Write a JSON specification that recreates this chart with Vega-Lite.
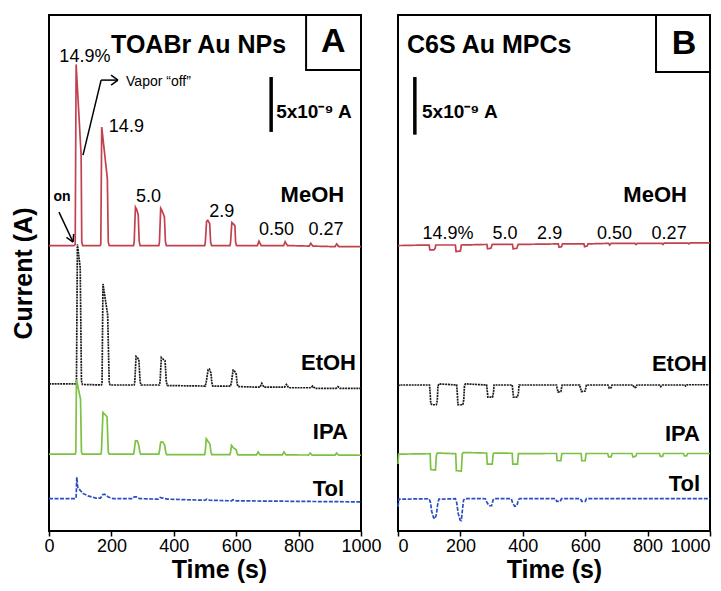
{
"$schema": "https://vega.github.io/schema/vega-lite/v6.json",
"background": "white",
"padding": {"left": 10, "top": 13, "right": 0, "bottom": 0},
"spacing": 37,
"bounds": "flush",
"config": {
  "font": "Liberation Sans",
  "view": {"stroke": "black", "strokeWidth": 2},
  "axisX": {"titleFontSize": 25, "titleFontWeight": "bold", "titleColor": "black", "titlePadding": 2,
    "labelFontSize": 18, "labelColor": "black", "labelFlush": false, "labelPadding": 1, "labelFontWeight": "normal",
    "tickColor": "black", "tickSize": 5, "tickWidth": 1.5, "domain": false, "grid": false},
  "text": {"color": "black"}
},
"datasets": {
  "tracesA": [
    {"series":"MeOH","time":0,"current":26.0},{"series":"MeOH","time":80,"current":26.0},{"series":"MeOH","time":84,"current":26.1},{"series":"MeOH","time":87,"current":42.5},{"series":"MeOH","time":103,"current":34.2},{"series":"MeOH","time":105,"current":26.3},{"series":"MeOH","time":108,"current":26.0},
    {"series":"MeOH","time":164,"current":26.0},{"series":"MeOH","time":166,"current":26.1},{"series":"MeOH","time":169,"current":36.8},{"series":"MeOH","time":187,"current":32.1},{"series":"MeOH","time":190,"current":26.3},{"series":"MeOH","time":193,"current":26.0},
    {"series":"MeOH","time":271,"current":26.0},{"series":"MeOH","time":273,"current":26.3},{"series":"MeOH","time":277,"current":29.5},{"series":"MeOH","time":281,"current":29.3},{"series":"MeOH","time":286,"current":28.8},{"series":"MeOH","time":289,"current":26.4},{"series":"MeOH","time":292,"current":26.0},
    {"series":"MeOH","time":352,"current":26.0},{"series":"MeOH","time":354,"current":26.3},{"series":"MeOH","time":358,"current":29.4},{"series":"MeOH","time":362,"current":29.2},{"series":"MeOH","time":370,"current":28.6},{"series":"MeOH","time":373,"current":26.4},{"series":"MeOH","time":376,"current":26.0},
    {"series":"MeOH","time":499,"current":26.0},{"series":"MeOH","time":501,"current":26.3},{"series":"MeOH","time":505,"current":28.2},{"series":"MeOH","time":509,"current":28.3},{"series":"MeOH","time":515,"current":28.0},{"series":"MeOH","time":518,"current":26.3},{"series":"MeOH","time":521,"current":26.0},
    {"series":"MeOH","time":580,"current":26.0},{"series":"MeOH","time":582,"current":26.3},{"series":"MeOH","time":586,"current":28.1},{"series":"MeOH","time":590,"current":28.0},{"series":"MeOH","time":596,"current":27.8},{"series":"MeOH","time":598,"current":26.3},{"series":"MeOH","time":601,"current":26.0},
    {"series":"MeOH","time":668,"current":26.0},{"series":"MeOH","time":673,"current":26.4},{"series":"MeOH","time":680,"current":26.0},{"series":"MeOH","time":752,"current":26.0},{"series":"MeOH","time":757,"current":26.35},{"series":"MeOH","time":764,"current":26.0},
    {"series":"MeOH","time":834,"current":25.95},{"series":"MeOH","time":839,"current":26.2},{"series":"MeOH","time":846,"current":25.95},{"series":"MeOH","time":917,"current":25.9},{"series":"MeOH","time":922,"current":26.15},{"series":"MeOH","time":929,"current":25.9},{"series":"MeOH","time":1000,"current":25.9},

    {"series":"EtOH","time":0,"current":13.4},{"series":"EtOH","time":85,"current":13.4},{"series":"EtOH","time":88,"current":13.6},{"series":"EtOH","time":91,"current":26.1},{"series":"EtOH","time":100,"current":24.0},{"series":"EtOH","time":104,"current":13.7},{"series":"EtOH","time":107,"current":13.35},
    {"series":"EtOH","time":168,"current":13.3},{"series":"EtOH","time":170,"current":13.5},{"series":"EtOH","time":173,"current":22.5},{"series":"EtOH","time":188,"current":19.7},{"series":"EtOH","time":193,"current":13.5},{"series":"EtOH","time":196,"current":13.3},
    {"series":"EtOH","time":273,"current":13.3},{"series":"EtOH","time":275,"current":13.6},{"series":"EtOH","time":279,"current":15.9},{"series":"EtOH","time":283,"current":15.8},{"series":"EtOH","time":288,"current":15.6},{"series":"EtOH","time":292,"current":13.6},{"series":"EtOH","time":295,"current":13.3},
    {"series":"EtOH","time":354,"current":13.3},{"series":"EtOH","time":356,"current":13.6},{"series":"EtOH","time":360,"current":15.8},{"series":"EtOH","time":364,"current":15.7},{"series":"EtOH","time":372,"current":15.5},{"series":"EtOH","time":376,"current":13.6},{"series":"EtOH","time":379,"current":13.25},
    {"series":"EtOH","time":501,"current":13.2},{"series":"EtOH","time":504,"current":13.6},{"series":"EtOH","time":510,"current":14.7},{"series":"EtOH","time":514,"current":14.75},{"series":"EtOH","time":519,"current":14.4},{"series":"EtOH","time":522,"current":13.5},{"series":"EtOH","time":525,"current":13.2},
    {"series":"EtOH","time":582,"current":13.2},{"series":"EtOH","time":585,"current":13.6},{"series":"EtOH","time":590,"current":14.65},{"series":"EtOH","time":594,"current":14.6},{"series":"EtOH","time":600,"current":14.3},{"series":"EtOH","time":603,"current":13.4},{"series":"EtOH","time":606,"current":13.15},
    {"series":"EtOH","time":676,"current":13.1},{"series":"EtOH","time":682,"current":13.45},{"series":"EtOH","time":689,"current":13.1},{"series":"EtOH","time":755,"current":13.1},{"series":"EtOH","time":761,"current":13.35},{"series":"EtOH","time":768,"current":13.05},
    {"series":"EtOH","time":840,"current":13.05},{"series":"EtOH","time":845,"current":13.2},{"series":"EtOH","time":852,"current":13.0},{"series":"EtOH","time":920,"current":13.0},{"series":"EtOH","time":926,"current":13.15},{"series":"EtOH","time":933,"current":13.0},{"series":"EtOH","time":1000,"current":13.0},

    {"series":"IPA","time":0,"current":7.0},{"series":"IPA","time":84,"current":7.0},{"series":"IPA","time":86,"current":7.2},{"series":"IPA","time":88,"current":13.8},{"series":"IPA","time":101,"current":12.0},{"series":"IPA","time":104,"current":7.2},{"series":"IPA","time":107,"current":7.0},
    {"series":"IPA","time":166,"current":7.0},{"series":"IPA","time":168,"current":7.2},{"series":"IPA","time":173,"current":10.8},{"series":"IPA","time":186,"current":10.4},{"series":"IPA","time":190,"current":7.2},{"series":"IPA","time":193,"current":7.0},
    {"series":"IPA","time":271,"current":7.0},{"series":"IPA","time":273,"current":7.3},{"series":"IPA","time":277,"current":8.2},{"series":"IPA","time":283,"current":8.2},{"series":"IPA","time":288,"current":7.8},{"series":"IPA","time":291,"current":7.2},{"series":"IPA","time":294,"current":7.0},
    {"series":"IPA","time":352,"current":7.0},{"series":"IPA","time":354,"current":7.3},{"series":"IPA","time":358,"current":8.1},{"series":"IPA","time":365,"current":8.1},{"series":"IPA","time":371,"current":7.8},{"series":"IPA","time":374,"current":7.2},{"series":"IPA","time":377,"current":6.95},
    {"series":"IPA","time":499,"current":6.95},{"series":"IPA","time":501,"current":7.3},{"series":"IPA","time":504,"current":8.4},{"series":"IPA","time":516,"current":7.9},{"series":"IPA","time":519,"current":7.2},{"series":"IPA","time":522,"current":6.95},
    {"series":"IPA","time":580,"current":6.95},{"series":"IPA","time":582,"current":7.2},{"series":"IPA","time":585,"current":7.8},{"series":"IPA","time":592,"current":7.55},{"series":"IPA","time":600,"current":7.4},{"series":"IPA","time":603,"current":7.05},{"series":"IPA","time":606,"current":6.93},
    {"series":"IPA","time":665,"current":6.93},{"series":"IPA","time":670,"current":7.2},{"series":"IPA","time":677,"current":6.93},{"series":"IPA","time":748,"current":6.93},{"series":"IPA","time":753,"current":7.2},{"series":"IPA","time":760,"current":6.93},
    {"series":"IPA","time":832,"current":6.92},{"series":"IPA","time":837,"current":7.1},{"series":"IPA","time":843,"current":6.92},{"series":"IPA","time":917,"current":6.92},{"series":"IPA","time":922,"current":7.1},{"series":"IPA","time":928,"current":6.92},{"series":"IPA","time":1000,"current":6.9},

    {"series":"Tol","time":0,"current":2.95},{"series":"Tol","time":85,"current":2.95},{"series":"Tol","time":87,"current":3.1},{"series":"Tol","time":89,"current":4.9},{"series":"Tol","time":92,"current":4.0},{"series":"Tol","time":100,"current":3.7},{"series":"Tol","time":110,"current":3.4},{"series":"Tol","time":125,"current":3.2},{"series":"Tol","time":150,"current":3.0},
    {"series":"Tol","time":165,"current":3.0},{"series":"Tol","time":172,"current":3.3},{"series":"Tol","time":178,"current":3.35},{"series":"Tol","time":190,"current":3.1},{"series":"Tol","time":205,"current":2.95},
    {"series":"Tol","time":268,"current":2.95},{"series":"Tol","time":273,"current":3.1},{"series":"Tol","time":280,"current":3.1},{"series":"Tol","time":290,"current":2.95},{"series":"Tol","time":350,"current":2.9},{"series":"Tol","time":356,"current":3.05},{"series":"Tol","time":364,"current":3.0},{"series":"Tol","time":380,"current":2.9},
    {"series":"Tol","time":500,"current":2.8},{"series":"Tol","time":506,"current":2.9},{"series":"Tol","time":515,"current":2.8},{"series":"Tol","time":585,"current":2.75},{"series":"Tol","time":590,"current":2.85},{"series":"Tol","time":600,"current":2.75},{"series":"Tol","time":1000,"current":2.65}
  ],
  "tracesB": [
    {"series":"MeOH","time":0,"current":26.0},{"series":"MeOH","time":100,"current":26.05},{"series":"MeOH","time":102,"current":25.6},{"series":"MeOH","time":115,"current":25.6},{"series":"MeOH","time":119,"current":25.75},{"series":"MeOH","time":121,"current":26.05},
    {"series":"MeOH","time":184,"current":26.05},{"series":"MeOH","time":186,"current":25.45},{"series":"MeOH","time":200,"current":25.5},{"series":"MeOH","time":203,"current":26.05},
    {"series":"MeOH","time":285,"current":26.1},{"series":"MeOH","time":287,"current":25.7},{"series":"MeOH","time":298,"current":25.75},{"series":"MeOH","time":302,"current":26.1},
    {"series":"MeOH","time":367,"current":26.1},{"series":"MeOH","time":369,"current":25.7},{"series":"MeOH","time":381,"current":25.75},{"series":"MeOH","time":385,"current":26.1},
    {"series":"MeOH","time":514,"current":26.15},{"series":"MeOH","time":516,"current":25.85},{"series":"MeOH","time":524,"current":25.9},{"series":"MeOH","time":527,"current":26.15},
    {"series":"MeOH","time":596,"current":26.15},{"series":"MeOH","time":598,"current":25.9},{"series":"MeOH","time":606,"current":25.95},{"series":"MeOH","time":609,"current":26.15},
    {"series":"MeOH","time":675,"current":26.2},{"series":"MeOH","time":678,"current":26.05},{"series":"MeOH","time":683,"current":26.2},{"series":"MeOH","time":760,"current":26.2},{"series":"MeOH","time":763,"current":26.1},{"series":"MeOH","time":767,"current":26.2},
    {"series":"MeOH","time":846,"current":26.2},{"series":"MeOH","time":849,"current":26.1},{"series":"MeOH","time":853,"current":26.22},{"series":"MeOH","time":930,"current":26.22},{"series":"MeOH","time":933,"current":26.15},{"series":"MeOH","time":937,"current":26.25},{"series":"MeOH","time":1000,"current":26.25},

    {"series":"EtOH","time":0,"current":13.2},{"series":"EtOH","time":5,"current":13.3},{"series":"EtOH","time":101,"current":13.3},{"series":"EtOH","time":103,"current":12.6},{"series":"EtOH","time":105,"current":11.6},{"series":"EtOH","time":110,"current":11.5},{"series":"EtOH","time":123,"current":11.5},{"series":"EtOH","time":126,"current":11.9},{"series":"EtOH","time":128,"current":13.2},{"series":"EtOH","time":131,"current":13.4},
    {"series":"EtOH","time":188,"current":13.3},{"series":"EtOH","time":190,"current":12.6},{"series":"EtOH","time":192,"current":11.5},{"series":"EtOH","time":208,"current":11.5},{"series":"EtOH","time":211,"current":12.0},{"series":"EtOH","time":213,"current":13.2},{"series":"EtOH","time":216,"current":13.4},
    {"series":"EtOH","time":284,"current":13.3},{"series":"EtOH","time":286,"current":12.8},{"series":"EtOH","time":288,"current":12.2},{"series":"EtOH","time":303,"current":12.2},{"series":"EtOH","time":306,"current":12.6},{"series":"EtOH","time":308,"current":13.3},
    {"series":"EtOH","time":366,"current":13.3},{"series":"EtOH","time":368,"current":12.8},{"series":"EtOH","time":370,"current":12.2},{"series":"EtOH","time":383,"current":12.2},{"series":"EtOH","time":386,"current":12.6},{"series":"EtOH","time":388,"current":13.3},
    {"series":"EtOH","time":508,"current":13.3},{"series":"EtOH","time":510,"current":13.0},{"series":"EtOH","time":513,"current":12.65},{"series":"EtOH","time":522,"current":12.7},{"series":"EtOH","time":526,"current":13.3},
    {"series":"EtOH","time":582,"current":13.3},{"series":"EtOH","time":585,"current":13.0},{"series":"EtOH","time":588,"current":12.7},{"series":"EtOH","time":600,"current":12.75},{"series":"EtOH","time":604,"current":13.3},
    {"series":"EtOH","time":673,"current":13.3},{"series":"EtOH","time":677,"current":13.0},{"series":"EtOH","time":683,"current":13.05},{"series":"EtOH","time":686,"current":13.3},
    {"series":"EtOH","time":753,"current":13.3},{"series":"EtOH","time":757,"current":13.05},{"series":"EtOH","time":763,"current":13.1},{"series":"EtOH","time":766,"current":13.3},
    {"series":"EtOH","time":838,"current":13.3},{"series":"EtOH","time":842,"current":13.15},{"series":"EtOH","time":847,"current":13.3},{"series":"EtOH","time":919,"current":13.3},{"series":"EtOH","time":922,"current":13.2},{"series":"EtOH","time":927,"current":13.32},{"series":"EtOH","time":1000,"current":13.32},

    {"series":"IPA","time":0,"current":6.1},{"series":"IPA","time":2,"current":7.0},{"series":"IPA","time":103,"current":7.04},{"series":"IPA","time":105,"current":5.6},{"series":"IPA","time":120,"current":5.55},{"series":"IPA","time":123,"current":6.9},{"series":"IPA","time":126,"current":7.1},
    {"series":"IPA","time":185,"current":7.04},{"series":"IPA","time":187,"current":5.5},{"series":"IPA","time":203,"current":5.45},{"series":"IPA","time":206,"current":7.0},{"series":"IPA","time":209,"current":7.15},
    {"series":"IPA","time":284,"current":7.1},{"series":"IPA","time":286,"current":6.1},{"series":"IPA","time":302,"current":6.1},{"series":"IPA","time":305,"current":7.0},{"series":"IPA","time":308,"current":7.1},
    {"series":"IPA","time":366,"current":7.08},{"series":"IPA","time":368,"current":6.1},{"series":"IPA","time":383,"current":6.1},{"series":"IPA","time":386,"current":7.05},
    {"series":"IPA","time":508,"current":7.06},{"series":"IPA","time":510,"current":6.4},{"series":"IPA","time":522,"current":6.4},{"series":"IPA","time":525,"current":7.06},
    {"series":"IPA","time":587,"current":7.06},{"series":"IPA","time":589,"current":6.4},{"series":"IPA","time":600,"current":6.4},{"series":"IPA","time":603,"current":7.06},
    {"series":"IPA","time":672,"current":7.06},{"series":"IPA","time":675,"current":6.75},{"series":"IPA","time":683,"current":6.75},{"series":"IPA","time":686,"current":7.06},
    {"series":"IPA","time":750,"current":7.06},{"series":"IPA","time":753,"current":6.75},{"series":"IPA","time":762,"current":6.8},{"series":"IPA","time":765,"current":7.06},
    {"series":"IPA","time":838,"current":7.06},{"series":"IPA","time":841,"current":6.8},{"series":"IPA","time":848,"current":6.8},{"series":"IPA","time":851,"current":7.06},
    {"series":"IPA","time":915,"current":7.06},{"series":"IPA","time":918,"current":6.85},{"series":"IPA","time":925,"current":6.85},{"series":"IPA","time":928,"current":7.06},{"series":"IPA","time":1000,"current":7.06},

    {"series":"Tol","time":0,"current":2.2},{"series":"Tol","time":3,"current":2.9},{"series":"Tol","time":100,"current":2.94},{"series":"Tol","time":104,"current":2.6},{"series":"Tol","time":108,"current":1.8},{"series":"Tol","time":114,"current":1.2},{"series":"Tol","time":118,"current":1.1},{"series":"Tol","time":123,"current":1.5},{"series":"Tol","time":127,"current":2.4},{"series":"Tol","time":131,"current":2.9},
    {"series":"Tol","time":184,"current":2.94},{"series":"Tol","time":188,"current":2.6},{"series":"Tol","time":193,"current":1.6},{"series":"Tol","time":199,"current":1.0},{"series":"Tol","time":203,"current":0.95},{"series":"Tol","time":206,"current":1.8},{"series":"Tol","time":210,"current":2.8},{"series":"Tol","time":214,"current":2.95},
    {"series":"Tol","time":280,"current":2.94},{"series":"Tol","time":285,"current":2.6},{"series":"Tol","time":292,"current":2.3},{"series":"Tol","time":300,"current":2.3},{"series":"Tol","time":305,"current":2.85},{"series":"Tol","time":309,"current":2.95},
    {"series":"Tol","time":363,"current":2.94},{"series":"Tol","time":367,"current":2.6},{"series":"Tol","time":374,"current":2.25},{"series":"Tol","time":381,"current":2.3},{"series":"Tol","time":386,"current":2.85},{"series":"Tol","time":390,"current":2.95},
    {"series":"Tol","time":505,"current":2.94},{"series":"Tol","time":509,"current":2.7},{"series":"Tol","time":520,"current":2.7},{"series":"Tol","time":524,"current":2.94},
    {"series":"Tol","time":585,"current":2.94},{"series":"Tol","time":589,"current":2.7},{"series":"Tol","time":600,"current":2.7},{"series":"Tol","time":604,"current":2.94},{"series":"Tol","time":1000,"current":2.94}
  ]
},
"hconcat": [
  {
    "width": 312, "height": 516,
    "layer": [
      {
        "data": {"name": "tracesA"},
        "mark": {"type": "line", "strokeWidth": 1.7},
        "encoding": {
          "x": {"field": "time", "type": "quantitative", "scale": {"domain": [0, 1000], "nice": false}, "axis": {"title": "Time (s)", "values": [0, 200, 400, 600, 800, 1000], "format": "d", "titleX": 170}},
          "y": {"field": "current", "type": "quantitative", "scale": {"domain": [0, 47], "nice": false, "zero": false},
                "axis": {"title": "Current (A)", "labels": false, "ticks": false, "domain": false, "grid": false, "titleFontSize": 25, "titleFontWeight": "bold", "titleColor": "black", "titlePadding": 13}},
          "color": {"field": "series", "type": "nominal", "scale": {"domain": ["MeOH", "EtOH", "IPA", "Tol"], "range": ["#c2414e", "#1a1a1a", "#7cc242", "#2a4fbf"]}, "legend": null},
          "strokeDash": {"field": "series", "type": "nominal", "scale": {"domain": ["MeOH", "EtOH", "IPA", "Tol"], "range": [[1, 0], [2, 0.8], [1, 0], [4, 1.5]]}, "legend": null},
          "order": {"field": "time", "type": "quantitative"}
        }
      },
      {
        "data": {"values": [{"time": 824, "time2": 1000, "current": 42.0, "current2": 47}]},
        "mark": {"type": "rect", "fill": "white", "stroke": "black", "strokeWidth": 2},
        "encoding": {"x": {"field": "time", "type": "quantitative"}, "x2": {"field": "time2"}, "y": {"field": "current", "type": "quantitative"}, "y2": {"field": "current2"}}
      },
      {
        "data": {"values": [{"time": 712, "current": 41.35, "time2": 712, "current2": 36.35}]},
        "mark": {"type": "rule", "strokeWidth": 3.5, "color": "black"},
        "encoding": {"x": {"field": "time", "type": "quantitative"}, "y": {"field": "current", "type": "quantitative"}, "x2": {"field": "time2"}, "y2": {"field": "current2"}}
      },
      {
        "data": {"values": [
          {"time": 32, "current": 29.05, "time2": 77, "current2": 26.32},
          {"time": 77, "current": 26.32, "time2": 79, "current2": 27.05},
          {"time": 77, "current": 26.32, "time2": 56, "current2": 26.74},
          {"time": 109, "current": 34.24, "time2": 167, "current2": 41.07},
          {"time": 167, "current": 41.07, "time2": 221, "current2": 41.07},
          {"time": 221, "current": 41.07, "time2": 199, "current2": 41.53},
          {"time": 221, "current": 41.07, "time2": 199, "current2": 40.62}
        ]},
        "mark": {"type": "rule", "strokeWidth": 1.5, "color": "black"},
        "encoding": {"x": {"field": "time", "type": "quantitative"}, "y": {"field": "current", "type": "quantitative"}, "x2": {"field": "time2"}, "y2": {"field": "current2"}}
      },
      {
        "data": {"values": [{"time": 199, "current": 44.3, "label": "TOABr Au NPs"}]},
        "mark": {"type": "text", "fontSize": 25, "fontWeight": "bold", "align": "left", "baseline": "middle"},
        "encoding": {"x": {"field": "time", "type": "quantitative"}, "y": {"field": "current", "type": "quantitative"}, "text": {"field": "label"}}
      },
      {
        "data": {"values": [{"time": 911, "current": 44.5, "label": "A"}]},
        "mark": {"type": "text", "fontSize": 34, "fontWeight": "bold", "align": "center", "baseline": "middle"},
        "encoding": {"x": {"field": "time", "type": "quantitative"}, "y": {"field": "current", "type": "quantitative"}, "text": {"field": "label"}}
      },
      {
        "data": {"values": [{"time": 728, "current": 38.2, "label": "5x10⁻⁹ A"}]},
        "mark": {"type": "text", "fontSize": 19, "fontWeight": "bold", "align": "left", "baseline": "middle"},
        "encoding": {"x": {"field": "time", "type": "quantitative"}, "y": {"field": "current", "type": "quantitative"}, "text": {"field": "label"}}
      },
      {
        "data": {"values": [
          {"time": 115, "current": 43.2, "label": "14.9%"},
          {"time": 248, "current": 36.8, "label": "14.9"},
          {"time": 319, "current": 30.4, "label": "5.0"},
          {"time": 554, "current": 29.05, "label": "2.9"},
          {"time": 729, "current": 27.4, "label": "0.50"},
          {"time": 888, "current": 27.4, "label": "0.27"}
        ]},
        "mark": {"type": "text", "fontSize": 18, "align": "center", "baseline": "middle"},
        "encoding": {"x": {"field": "time", "type": "quantitative"}, "y": {"field": "current", "type": "quantitative"}, "text": {"field": "label"}}
      },
      {
        "data": {"values": [
          {"time": 946, "current": 30.6, "label": "MeOH"},
          {"time": 984, "current": 15.3, "label": "EtOH"},
          {"time": 958, "current": 9.0, "label": "IPA"},
          {"time": 946, "current": 3.8, "label": "Tol"}
        ]},
        "mark": {"type": "text", "fontSize": 22, "fontWeight": "bold", "align": "right", "baseline": "middle"},
        "encoding": {"x": {"field": "time", "type": "quantitative"}, "y": {"field": "current", "type": "quantitative"}, "text": {"field": "label"}}
      },
      {
        "data": {"values": [{"time": 42, "current": 30.4, "label": "on"}]},
        "mark": {"type": "text", "fontSize": 14, "fontWeight": "bold", "align": "center", "baseline": "middle"},
        "encoding": {"x": {"field": "time", "type": "quantitative"}, "y": {"field": "current", "type": "quantitative"}, "text": {"field": "label"}}
      },
      {
        "data": {"values": [{"time": 247, "current": 40.9, "label": "Vapor “off”"}]},
        "mark": {"type": "text", "fontSize": 14, "align": "left", "baseline": "middle"},
        "encoding": {"x": {"field": "time", "type": "quantitative"}, "y": {"field": "current", "type": "quantitative"}, "text": {"field": "label"}}
      }
    ]
  },
  {
    "width": 312, "height": 516,
    "layer": [
      {
        "data": {"name": "tracesB"},
        "mark": {"type": "line", "strokeWidth": 1.7},
        "encoding": {
          "x": {"field": "time", "type": "quantitative", "scale": {"domain": [0, 1000], "nice": false}, "axis": {"title": "Time (s)", "values": [0, 200, 400, 600, 800, 1000], "format": "d", "labelFlush": true}},
          "y": {"field": "current", "type": "quantitative", "scale": {"domain": [0, 47], "nice": false, "zero": false}, "axis": null},
          "color": {"field": "series", "type": "nominal", "scale": {"domain": ["MeOH", "EtOH", "IPA", "Tol"], "range": ["#c2414e", "#1a1a1a", "#7cc242", "#2a4fbf"]}, "legend": null},
          "strokeDash": {"field": "series", "type": "nominal", "scale": {"domain": ["MeOH", "EtOH", "IPA", "Tol"], "range": [[1, 0], [2, 0.8], [1, 0], [4, 1.5]]}, "legend": null},
          "order": {"field": "time", "type": "quantitative"}
        }
      },
      {
        "data": {"values": [{"time": 827, "time2": 1000, "current": 41.8, "current2": 47}]},
        "mark": {"type": "rect", "fill": "white", "stroke": "black", "strokeWidth": 2},
        "encoding": {"x": {"field": "time", "type": "quantitative"}, "x2": {"field": "time2"}, "y": {"field": "current", "type": "quantitative"}, "y2": {"field": "current2"}}
      },
      {
        "data": {"values": [{"time": 54, "current": 41.35, "time2": 54, "current2": 36.1}]},
        "mark": {"type": "rule", "strokeWidth": 3.5, "color": "black"},
        "encoding": {"x": {"field": "time", "type": "quantitative"}, "y": {"field": "current", "type": "quantitative"}, "x2": {"field": "time2"}, "y2": {"field": "current2"}}
      },
      {
        "data": {"values": [{"time": 29, "current": 44.3, "label": "C6S Au MPCs"}]},
        "mark": {"type": "text", "fontSize": 25, "fontWeight": "bold", "align": "left", "baseline": "middle"},
        "encoding": {"x": {"field": "time", "type": "quantitative"}, "y": {"field": "current", "type": "quantitative"}, "text": {"field": "label"}}
      },
      {
        "data": {"values": [{"time": 917, "current": 44.4, "label": "B"}]},
        "mark": {"type": "text", "fontSize": 34, "fontWeight": "bold", "align": "center", "baseline": "middle"},
        "encoding": {"x": {"field": "time", "type": "quantitative"}, "y": {"field": "current", "type": "quantitative"}, "text": {"field": "label"}}
      },
      {
        "data": {"values": [{"time": 77, "current": 38.2, "label": "5x10⁻⁹ A"}]},
        "mark": {"type": "text", "fontSize": 19, "fontWeight": "bold", "align": "left", "baseline": "middle"},
        "encoding": {"x": {"field": "time", "type": "quantitative"}, "y": {"field": "current", "type": "quantitative"}, "text": {"field": "label"}}
      },
      {
        "data": {"values": [
          {"time": 160, "current": 27.05, "label": "14.9%"},
          {"time": 343, "current": 27.05, "label": "5.0"},
          {"time": 486, "current": 27.05, "label": "2.9"},
          {"time": 694, "current": 27.05, "label": "0.50"},
          {"time": 869, "current": 27.05, "label": "0.27"}
        ]},
        "mark": {"type": "text", "fontSize": 18, "align": "center", "baseline": "middle"},
        "encoding": {"x": {"field": "time", "type": "quantitative"}, "y": {"field": "current", "type": "quantitative"}, "text": {"field": "label"}}
      },
      {
        "data": {"values": [
          {"time": 926, "current": 30.6, "label": "MeOH"},
          {"time": 990, "current": 15.2, "label": "EtOH"},
          {"time": 968, "current": 8.8, "label": "IPA"},
          {"time": 968, "current": 4.3, "label": "Tol"}
        ]},
        "mark": {"type": "text", "fontSize": 22, "fontWeight": "bold", "align": "right", "baseline": "middle"},
        "encoding": {"x": {"field": "time", "type": "quantitative"}, "y": {"field": "current", "type": "quantitative"}, "text": {"field": "label"}}
      }
    ]
  }
]
}
